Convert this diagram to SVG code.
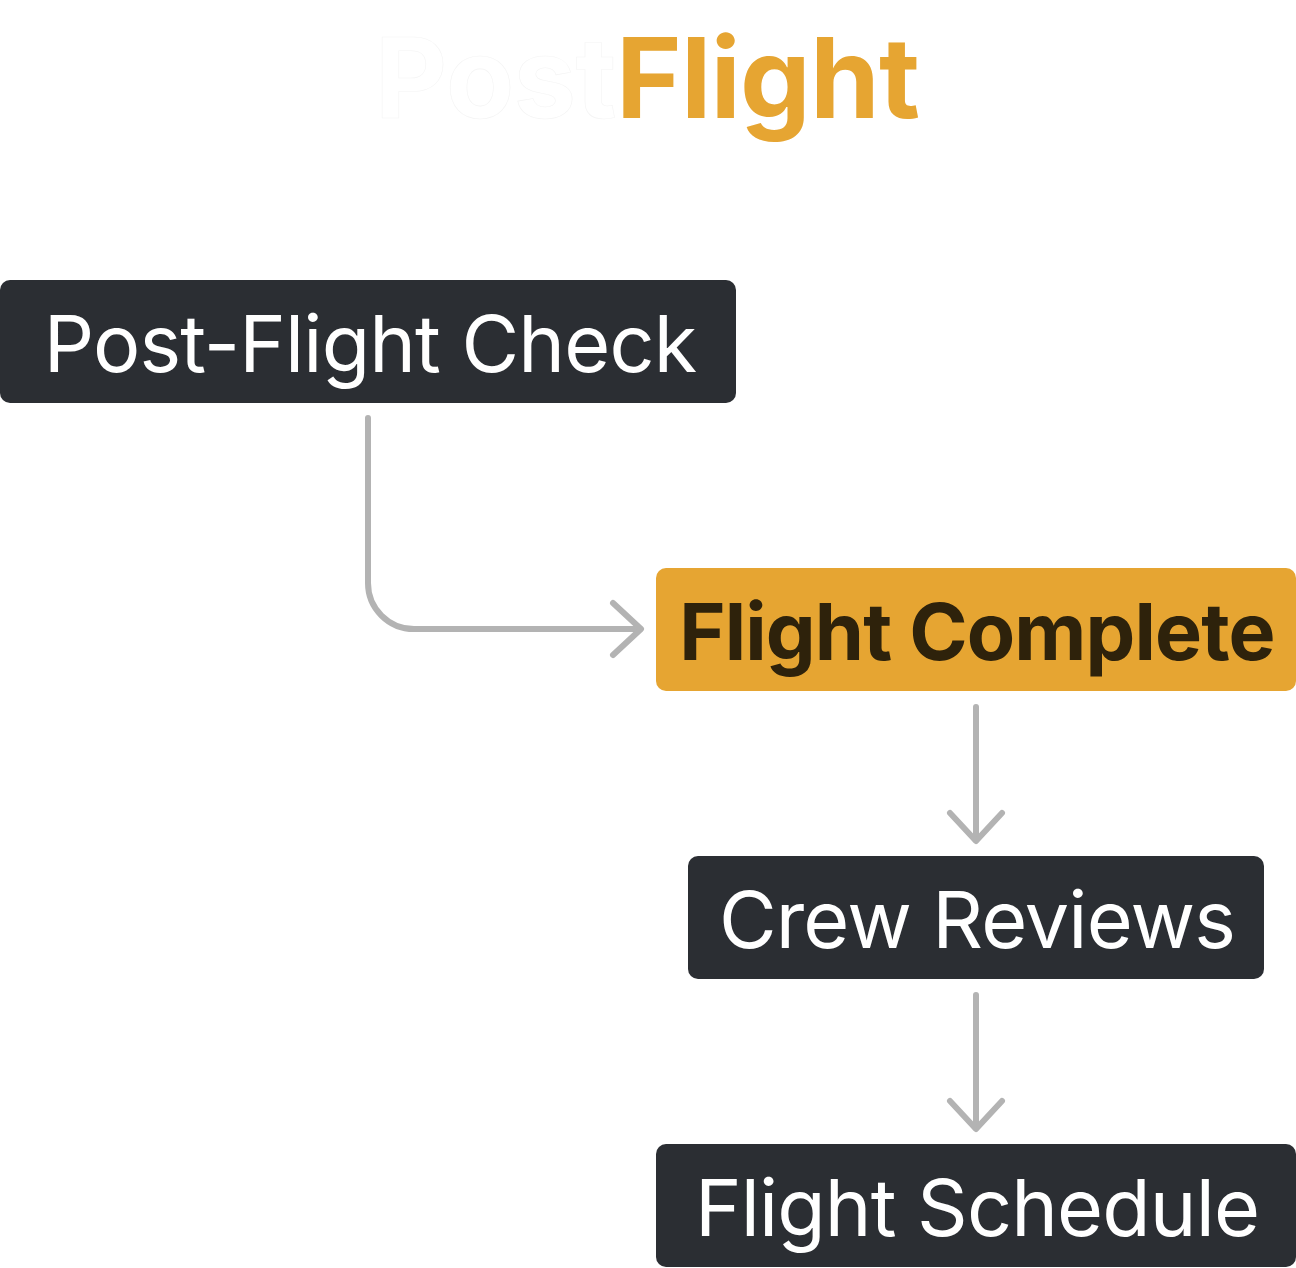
<svg xmlns="http://www.w3.org/2000/svg" width="1296" height="1268" viewBox="0 0 1296 1268">
<style>
.dark{fill:#2B2E33}
.accent{fill:#E6A532}
.lbl{font-family:Inter,"Liberation Sans",sans-serif;font-size:79px;text-anchor:middle;letter-spacing:-0.85px}
.lt{fill:#FFFFFF;font-weight:400}
.bt{fill:#2E220B;font-weight:700}
.edge{fill:none;stroke:#B3B3B3;stroke-width:6;stroke-linecap:round;stroke-linejoin:round}
</style>
<rect x="0" y="0" width="1296" height="1268" fill="#FFFFFF"/>
<g id="title">
<text x="647" y="118" font-family="Inter,'Liberation Sans',sans-serif" font-size="112" font-weight="700" text-anchor="middle" letter-spacing="-0.8"><tspan fill="#FFFFFF" stroke="#F4F4F4" stroke-width="0.6">Post</tspan><tspan fill="#E6A532">Flight</tspan></text>
</g>
<g id="connectors">
<path class="edge" d="M368 418 V583 A46 46 0 0 0 414 629 H640"/>
<path class="edge" d="M613 603 L641 629 L613 655"/>
<path class="edge" d="M976 707 V840"/>
<path class="edge" d="M950 813 L976 841 L1002 813"/>
<path class="edge" d="M976 995 V1128"/>
<path class="edge" d="M950 1101 L976 1129 L1002 1101"/>
</g>
<g id="node-post-flight-check">
<rect class="dark" x="0" y="280" width="736" height="123" rx="10"/>
<text class="lbl lt" x="370" y="372">Post-Flight Check</text>
</g>
<g id="node-flight-complete">
<rect class="accent" x="656" y="568" width="640" height="123" rx="10"/>
<text class="lbl bt" x="977" y="660">Flight Complete</text>
</g>
<g id="node-crew-reviews">
<rect class="dark" x="688" y="856" width="576" height="123" rx="10"/>
<text class="lbl lt" x="977" y="948">Crew Reviews</text>
</g>
<g id="node-flight-schedule">
<rect class="dark" x="656" y="1144" width="640" height="123" rx="10"/>
<text class="lbl lt" x="977" y="1236">Flight Schedule</text>
</g>
</svg>
